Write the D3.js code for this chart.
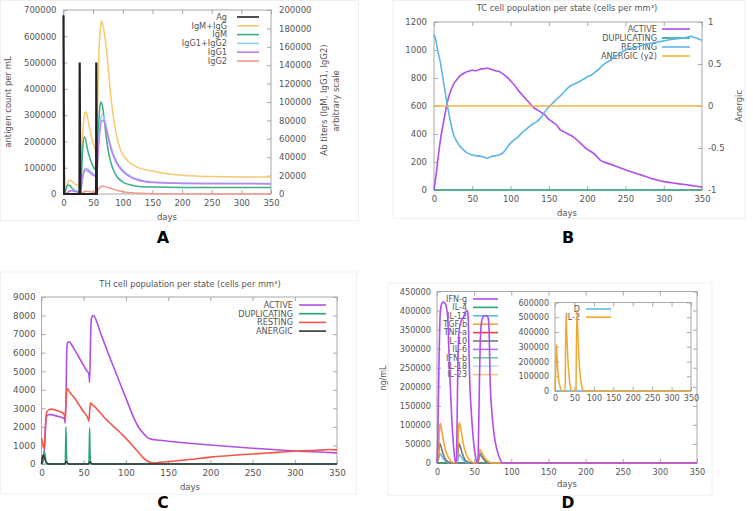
<!DOCTYPE html>
<html><head><meta charset="utf-8">
<script src="https://cdn.jsdelivr.net/npm/d3@7"></script>
<style>
body{margin:0;background:#fff;}
svg text{font-family:"DejaVu Sans",sans-serif;}
</style></head><body>
<svg id="c" width="753" height="511"></svg>
<script>
// ---------------- DATA ----------------
const xTicks=[0,50,100,150,200,250,300,350];

// Panel A
const aLeftTicks=[0,100000,200000,300000,400000,500000,600000,700000];
const aRightTicks=[0,20000,40000,60000,80000,100000,120000,140000,160000,180000,200000];
const aNames=["Ag","IgM+IgG","IgM","IgG1+IgG2","IgG1","IgG2"];
const aAg=[[0,680000],[1,0],[27,0],[27.3,500000],[28.3,0],[55,0],[55.3,500000],[56.3,0],[58,0]];
const aIgMIgG=[[0,0],[3,3000],[6,10000],[9,14500],[12,15000],[16,12500],[20,10500],[25,9000],[27,8000],[28,7000],[30,30000],[33,70000],[36,88000],[38,89000],[41,82000],[45,68000],[50,55000],[54,48000],[56,45000],[57,80000],[59,140000],[62,178000],[64,188000],[67,182000],[70,170000],[75,140000],[80,105000],[85,80000],[90,62000],[95,50000],[100,43000],[110,35000],[125,29000],[150,25000],[175,22000],[200,20500],[250,19000],[300,18600],[350,18500]];
const aIgM=[[0,0],[3,3500],[6,8500],[8,9800],[11,9000],[15,6000],[20,3500],[27,2500],[28,2500],[30,15000],[32,45000],[35,62000],[37,60000],[40,50000],[45,38000],[50,30000],[54,26000],[56,25000],[57,40000],[59,70000],[61,92000],[63,100000],[65,98000],[68,85000],[72,62000],[76,45000],[80,34000],[85,25000],[90,19000],[100,13000],[115,9500],[130,8000],[150,7500],[200,7000],[350,7000]];
const aIgG12=[[0,0],[5,1000],[10,3500],[14,4000],[20,3000],[27,2000],[28,2000],[30,8000],[33,22000],[37,28000],[40,27500],[45,25000],[50,22000],[55,20000],[56,19500],[57,30000],[59,55000],[62,78000],[65,86000],[68,84000],[72,74000],[76,62000],[80,52000],[85,42000],[90,35000],[100,26000],[110,20500],[125,16000],[150,13000],[200,12000],[250,11700],[350,11500]];
const aIgG1=[[0,0],[5,800],[10,3000],[14,3500],[20,2700],[27,1800],[28,1800],[30,7000],[33,20000],[37,26000],[40,25500],[45,23000],[50,20500],[55,18500],[56,18000],[57,27000],[59,50000],[62,72000],[65,80000],[68,79000],[72,70000],[76,59000],[80,49000],[85,40000],[90,33000],[100,24500],[110,19500],[125,15200],[150,12500],[200,11500],[250,11200],[350,11000]];
const aIgG2=[[0,0],[28,0],[32,1500],[38,3000],[45,2500],[55,1500],[56,1500],[58,4000],[62,7500],[66,8500],[70,8000],[80,6000],[90,4000],[100,2500],[120,1000],[150,300],[200,0],[350,0]];

// Panel B
const bLeftTicks=[0,200,400,600,800,1000,1200];
const bRightTicks=[-1,-0.5,0,0.5,1];
const bNames=["ACTIVE","DUPLICATING","RESTING","ANERGIC (y2)"];
const bActive=[[0,0],[3,120],[6,260],[9,380],[12,470],[15,560],[18,640],[22,710],[26,760],[30,790],[35,820],[40,838],[45,848],[50,855],[55,852],[60,862],[65,866],[70,870],[75,860],[80,852],[85,846],[90,830],[95,808],[100,780],[105,750],[110,712],[115,680],[120,650],[125,620],[130,590],[135,572],[140,555],[145,535],[150,505],[155,485],[160,464],[165,430],[170,415],[175,400],[182,380],[188,350],[194,320],[200,290],[205,275],[210,255],[217,214],[222,200],[230,185],[240,165],[250,145],[260,125],[270,108],[280,90],[290,74],[300,60],[310,52],[320,44],[330,37],[340,29],[350,21]];
const bDup=[[0,0],[350,0]];
const bResting=[[0,1110],[2,1080],[5,990],[8,920],[11,820],[14,720],[17,620],[20,530],[23,450],[26,390],[30,345],[34,310],[38,290],[42,270],[46,258],[50,250],[55,245],[60,242],[65,235],[70,228],[75,240],[80,245],[85,250],[90,265],[95,300],[100,335],[105,360],[110,380],[115,410],[120,432],[125,455],[130,475],[135,492],[140,520],[145,560],[150,595],[155,620],[160,648],[165,672],[170,700],[175,730],[180,750],[185,760],[190,775],[195,790],[200,808],[205,820],[210,840],[215,862],[220,890],[225,910],[230,925],[235,945],[240,965],[245,985],[250,1000],[255,1010],[260,1015],[265,1022],[270,1030],[280,1045],[290,1055],[300,1065],[310,1075],[320,1082],[330,1090],[335,1098],[340,1090],[345,1080],[350,1070]];
const bAnergic=[[0,0],[350,0]];

// Panel C
const cLeftTicks=[0,1000,2000,3000,4000,5000,6000,7000,8000,9000];
const cNames=["ACTIVE","DUPLICATING","RESTING","ANERGIC"];
const cActive=[[0,0],[2,200],[3,500],[4,1200],[5,2200],[6,2550],[8,2650],[11,2660],[15,2620],[20,2560],[25,2490],[27,2450],[28,2200],[29,3500],[30,6200],[31,6550],[33,6580],[36,6400],[40,6100],[45,5700],[50,5300],[54,5000],[56,4900],[57,4400],[58,6500],[59,7800],[61,8000],[62,7980],[70,7050],[80,5850],[90,4700],[100,3550],[110,2420],[115,1980],[120,1680],[125,1450],[130,1340],[140,1280],[150,1230],[175,1120],[200,1020],[250,850],[300,700],[350,600]];
const cDup=[[0,0],[2,150],[3.5,680],[5,250],[6,0],[28,0],[28.5,900],[29,2000],[29.5,800],[30.5,0],[56,0],[56.5,900],[57,1950],[57.5,800],[58.5,0],[350,0]];
const cResting=[[0,1400],[1,1200],[2,950],[3,850],[4,1300],[5,2300],[6,2750],[8,2900],[12,2960],[16,2920],[20,2850],[24,2780],[27,2650],[28,2450],[29,3300],[30,4000],[31,4050],[33,3900],[40,3500],[45,3150],[50,2800],[55,2460],[56,2300],[57,2800],[58,3300],[59,3250],[65,3000],[70,2750],[75,2480],[80,2250],[90,1830],[100,1380],[109,930],[115,620],[121,320],[126,150],[130,80],[135,70],[140,90],[149,120],[175,240],[200,370],[250,540],[267,590],[300,690],[320,730],[335,760],[340,780],[350,760]];
const cAnergic=[[0,0],[1,350],[2,480],[3,400],[5,150],[7,30],[9,0],[28,0],[29,150],[31,40],[33,0],[56,0],[57,120],[59,30],[61,0],[350,0]];

// Panel D
const dTicks=[0,50000,100000,150000,200000,250000,300000,350000,400000,450000];
const dNames=["IFN-g","IL-4","IL-12","TGF-b","TNF-a","IL-10","IL-6","IFN-b","IL-18","IL-23"];
const dIFNg=[[0,0],[1,60000],[2,180000],[3,300000],[4,380000],[5,405000],[7,420000],[9,422000],[11,418000],[13,405000],[14.5,380000],[16,300000],[17.5,220000],[20,110000],[22.5,40000],[25,0],[26,0],[27,100000],[28,250000],[29.5,340000],[32,370000],[36,385000],[39,398000],[41,400000],[42,380000],[43,300000],[44,220000],[46,140000],[49,60000],[52,15000],[54,0],[55,0],[56,80000],[57,200000],[58,300000],[60,370000],[63,385000],[67,387000],[69,380000],[70.5,320000],[71.5,220000],[74,130000],[78,60000],[83,20000],[89,0],[350,0]];
const dIL4=[[0,0],[350,0]];
const dIL12=[[0,0],[2,10000],[4,24000],[6,20000],[9,10000],[13,3000],[17,0],[27,0],[28,8000],[30,22000],[32,18000],[35,9000],[39,2000],[43,0],[55,0],[56,8000],[58,20000],[60,17000],[63,9000],[67,2000],[71,0],[350,0]];
const dTGFb=[[0,0],[2,30000],[3.5,90000],[4.5,104000],[6,90000],[9,55000],[12,30000],[16,12000],[20,3000],[25,0],[27,0],[28,40000],[29,90000],[30,106000],[32,90000],[35,55000],[38,30000],[42,12000],[47,3000],[52,0],[55,0],[56,20000],[57.5,36000],[59,32000],[62,22000],[66,10000],[70,3000],[75,0],[350,0]];
const dTNFa=[[0,0],[350,0]];
const dIL10=[[0,0],[2,20000],[3.5,52000],[5,45000],[8,25000],[12,8000],[16,2000],[20,0],[27,0],[28,20000],[29.5,52000],[31,45000],[34,25000],[38,8000],[42,2000],[46,0],[55,0],[56,10000],[57.5,26000],[59,23000],[62,13000],[66,4000],[70,0],[350,0]];
const dIL6=[[0,0],[350,0]];
const dIFNb=[[0,0],[350,0]];
const dIL18=[[0,0],[350,0]];
const dIL23=[[0,0],[350,0]];
// inset
const dInsetTicks=[0,100000,200000,300000,400000,500000,600000];
const dInsetNames=["D","IL-2"];
const dInsetD=[[0,0],[350,0]];
const dInsetIL2=[[0,0],[2,150000],[3.5,315000],[5,250000],[7,150000],[10,70000],[14,20000],[18,0],[26,0],[27,250000],[28.5,510000],[30,400000],[33,220000],[37,80000],[41,10000],[44,0],[54,0],[55,300000],[56.5,550000],[58,450000],[61,250000],[65,100000],[70,20000],[74,0],[350,0]];

// ---------------- DRAW ----------------
const svg=d3.select("#c");
const TXT="#555", BRD="#a8a8a8", FS=8.5;
const line=(x,y)=>d3.line().x(d=>x(d[0])).y(d=>y(d[1])).curve(d3.curveMonotoneX);

// faint panel frames
[[0.5,0.5,358,220],[393,0.5,352,218],[0.5,272,356,222],[388,283,324,212]].forEach(r=>{
  svg.append("rect").attr("x",r[0]).attr("y",r[1]).attr("width",r[2]).attr("height",r[3]).attr("fill","none").attr("stroke","#f0f0f0");
});

function styleAxis(sel,fs){
  sel.select(".domain").remove();
  sel.selectAll(".tick line").attr("stroke",BRD);
  sel.selectAll(".tick text").attr("fill",TXT).attr("font-size",fs||FS).attr("font-family","DejaVu Sans, sans-serif");
}

function frame(g,x0,x1,y0,y1){
  g.append("rect").attr("x",x0).attr("y",y0).attr("width",x1-x0).attr("height",y1-y0).attr("fill","none").attr("stroke",BRD).attr("stroke-width",1);
}

function axes(g,x,y,o){
  const [x0,x1]=x.range(); const [y1,y0]=y.range();
  g.append("g").attr("transform",`translate(0,${y1})`).call(d3.axisBottom(x).tickValues(o.xt).tickFormat(d3.format("d")).tickSizeInner(-4).tickSizeOuter(0).tickPadding(o.xp||6)).call(s=>styleAxis(s,o.fs));
  g.append("g").attr("transform",`translate(0,${y0})`).call(d3.axisTop(x).tickValues(o.xt).tickFormat("").tickSizeInner(-4).tickSizeOuter(0)).call(s=>styleAxis(s));
  g.append("g").attr("transform",`translate(${x0},0)`).call(d3.axisLeft(y).tickValues(o.yt).tickFormat(d3.format("d")).tickSizeInner(-4).tickSizeOuter(0).tickPadding(o.yp||7)).call(s=>styleAxis(s,o.fs));
  if(!o.noRight){
    g.append("g").attr("transform",`translate(${x1},0)`).call(d3.axisRight(y).tickValues(o.yt).tickFormat("").tickSizeInner(-4).tickSizeOuter(0)).call(s=>styleAxis(s));
  }
}

function legend(g,names,colors,xText,lx1,lx2,y0,dy,fs){
  names.forEach((n,i)=>{
    const yy=y0+i*dy;
    g.append("text").attr("x",xText).attr("y",yy).attr("dy","0.35em").attr("text-anchor","end").attr("font-size",fs||8.2).attr("fill",TXT).text(n);
    g.append("line").attr("x1",lx1).attr("x2",lx2).attr("y1",yy).attr("y2",yy).attr("stroke",colors[i]).attr("stroke-width",1.6);
  });
}

function draw(g,data,x,y,color,w){
  g.append("path").datum(data).attr("d",line(x,y)).attr("fill","none").attr("stroke",color).attr("stroke-width",w||1.5).attr("stroke-linejoin","round");
}

function label(txt,x,y,opts={}){
  const t=svg.append("text").attr("x",x).attr("y",y).attr("text-anchor","middle").attr("font-size",opts.fs||8.5).attr("fill",opts.fill||TXT).text(txt);
  if(opts.rot) t.attr("transform",`rotate(${opts.rot},${x},${y})`);
  if(opts.bold) t.attr("font-weight","bold").attr("font-family","Liberation Sans, Arial, sans-serif");
  return t;
}

// ===== Panel A =====
{
  const g=svg.append("g");
  const x=d3.scaleLinear().domain([0,350]).range([63.5,271]);
  const y=d3.scaleLinear().domain([0,700000]).range([194,10]);
  const y2=d3.scaleLinear().domain([0,200000]).range([194,10]);
  frame(g,63.5,271,10,194);
  axes(g,x,y,{xt:xTicks,yt:aLeftTicks,noRight:true,yp:7,xp:6});
  g.append("g").attr("transform","translate(271,0)").call(d3.axisRight(y2).tickValues(aRightTicks).tickFormat(d3.format("d")).tickSizeInner(-4).tickSizeOuter(0).tickPadding(8)).call(s=>styleAxis(s));
  const cols=["#222222","#f7c86e","#3aae86","#8dcbf0","#c57ef2","#f4978a"];
  legend(g,aNames,cols,227,237,259,17,8.8,8.2);
  draw(g,aIgMIgG,x,y2,cols[1]);
  draw(g,aIgM,x,y2,cols[2]);
  draw(g,aIgG12,x,y2,cols[3]);
  draw(g,aIgG1,x,y2,cols[4]);
  draw(g,aIgG2,x,y2,cols[5]);
  g.append("path").datum(aAg).attr("d",d3.line().x(d=>x(d[0])).y(d=>y(d[1]))).attr("fill","none").attr("stroke",cols[0]).attr("stroke-width",2.2);
  label("antigen count per mL",11,102,{rot:-90});
  label("Ab titers (IgM, IgG1, IgG2)",327,100,{rot:-90});
  label("arbitrary scale",339,101,{rot:-90});
  label("days",167,220);
  label("A",163,243,{fs:16,bold:true,fill:"#000"});
}

// ===== Panel B =====
{
  const g=svg.append("g");
  const x=d3.scaleLinear().domain([0,350]).range([434,702]);
  const y=d3.scaleLinear().domain([0,1200]).range([190,22]);
  const y2=d3.scaleLinear().domain([-1,1]).range([190,22]);
  frame(g,434,702,22,190);
  axes(g,x,y,{xt:xTicks,yt:bLeftTicks,noRight:true,yp:7,xp:6});
  g.append("g").attr("transform","translate(702,0)").call(d3.axisRight(y2).tickValues(bRightTicks).tickFormat(d=>String(d)).tickSizeInner(-4).tickSizeOuter(0).tickPadding(6)).call(s=>styleAxis(s));
  const cols=["#b04ee8","#2aa37a","#5ab7ea","#f0b43c"];
  legend(g,bNames,cols,657,662,690,29,9,8.2);
  draw(g,bDup,x,y,cols[1],1.6);
  draw(g,bActive,x,y,cols[0],1.6);
  draw(g,bResting,x,y,cols[2],1.6);
  draw(g,bAnergic,x,y2,cols[3],1.6);
  label("TC cell population per state (cells per mm³)",567,11,{fs:8.3});
  label("Anergic",742,106,{rot:-90});
  label("days",567,216);
  label("B",568,243,{fs:16,bold:true,fill:"#000"});
}

// ===== Panel C =====
{
  const g=svg.append("g");
  const x=d3.scaleLinear().domain([0,350]).range([41.5,337]);
  const y=d3.scaleLinear().domain([0,9000]).range([464,297]);
  frame(g,41.5,337,297,464);
  axes(g,x,y,{xt:xTicks,yt:cLeftTicks,yp:6,xp:6,fs:8.8});
  const cols=["#b04ee8","#2aa37a","#f0584a","#333333"];
  legend(g,cNames,cols,293,299,326,305,8.7,8.2);
  draw(g,cActive,x,y,cols[0],1.6);
  draw(g,cResting,x,y,cols[2],1.6);
  draw(g,cDup,x,y,cols[1],1.4);
  draw(g,cAnergic,x,y,cols[3],1.5);
  label("TH cell population per state (cells per mm³)",190,287,{fs:8.3});
  label("days",190,490);
  label("C",163,507.5,{fs:15.5,bold:true,fill:"#000"});
}

// ===== Panel D =====
{
  const g=svg.append("g");
  const x=d3.scaleLinear().domain([0,350]).range([437,697]);
  const y=d3.scaleLinear().domain([0,450000]).range([463,291.5]);
  frame(g,437,697,291.5,463);
  axes(g,x,y,{xt:xTicks,yt:dTicks,yp:6,xp:6,fs:8.2});
  const cols=["#b24cf0","#2aa37a","#62b9ea","#f0a830","#f0402a","#777777","#c070f0","#6ccaa0","#b8e0f8","#f8c880"];
  legend(g,dNames,cols,467,473,498,299,8.4,8);
  const series=[dIFNg,dIL4,dIL12,dTGFb,dTNFa,dIL10,dIL6,dIFNb,dIL18,dIL23];
  [9,8,7,6,4,1,2,5,3,0].forEach(i=>draw(g,series[i],x,y,cols[i],1.6));
  label("ng/mL",386,378,{rot:-90,fs:8});
  label("days",567,487);
  label("D",568,507.5,{fs:15.5,bold:true,fill:"#000"});

  // inset
  const gi=svg.append("g");
  const xi=d3.scaleLinear().domain([0,350]).range([555,691]);
  const yi=d3.scaleLinear().domain([0,600000]).range([391,302.5]);
  gi.append("rect").attr("x",555).attr("y",302.5).attr("width",136).attr("height",88.5).attr("fill","#fff");
  frame(gi,555,691,302.5,391);
  axes(gi,xi,yi,{xt:xTicks,yt:dInsetTicks,yp:6,xp:4,fs:8});
  const ic=["#62b9ea","#f0a830"];
  legend(gi,dInsetNames,ic,580,586,611,309,8.2,8);
  draw(gi,dInsetD,xi,yi,ic[0],1.5);
  draw(gi,dInsetIL2,xi,yi,ic[1],1.5);
}
</script>
</body></html>
